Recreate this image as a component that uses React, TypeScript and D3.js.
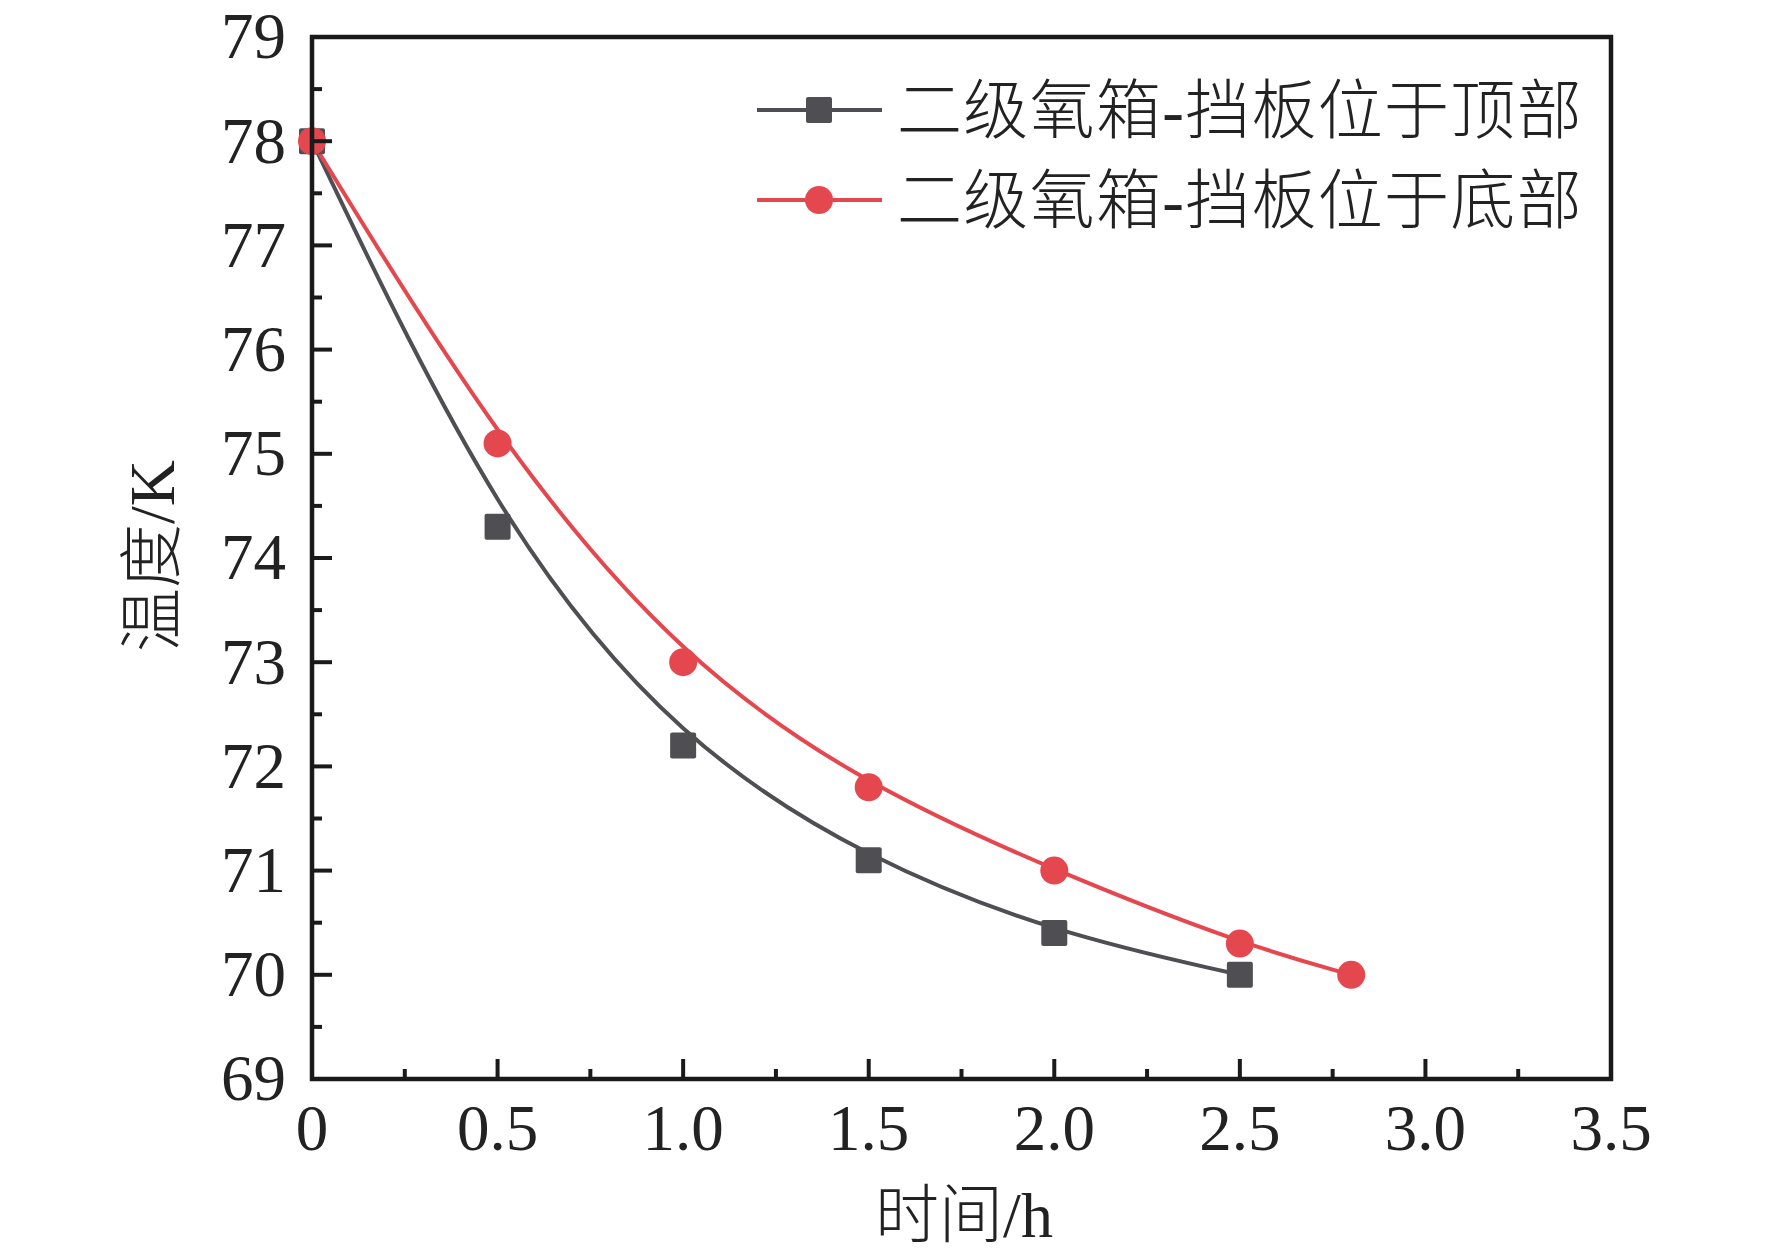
import * as d3 from 'd3';

// series
const timeTop = [0, 0.5, 1.0, 1.5, 2.0, 2.5];
const tempTop = [78, 74.3, 72.2, 71.1, 70.4, 70.0];
const timeBottom = [0, 0.5, 1.0, 1.5, 2.0, 2.5, 2.8];
const tempBottom = [78, 75.1, 73.0, 71.8, 71.0, 70.3, 70.0];

const seriesNames = ['二级氧箱-挡板位于顶部', '二级氧箱-挡板位于底部'];
const xTickLabels = ['0', '0.5', '1.0', '1.5', '2.0', '2.5', '3.0', '3.5'];
const yTickValues = [69, 70, 71, 72, 73, 74, 75, 76, 77, 78, 79];

const WIDTH = 1772;
const HEIGHT = 1257;
const MARGIN = { top: 37, right: 161, bottom: 178, left: 312 };

const GREY = '#4f4f53';
const RED = '#e5474f';
const FONT = "'Liberation Serif', 'Times New Roman', 'Noto Sans CJK SC', serif";

export default function App() {
  const boundsWidth = WIDTH - MARGIN.left - MARGIN.right;
  const boundsHeight = HEIGHT - MARGIN.top - MARGIN.bottom;

  const xScale = d3.scaleLinear().domain([0, 3.5]).range([0, boundsWidth]);
  const yScale = d3.scaleLinear().domain([69, 79]).range([boundsHeight, 0]);

  // Origin style B-spline connection
  const line = d3
    .line<[number, number]>()
    .x((d) => xScale(d[0]))
    .y((d) => yScale(d[1]))
    .curve(d3.curveBasis);

  const topPts = timeTop.map((t, i) => [t, tempTop[i]] as [number, number]);
  const bottomPts = timeBottom.map((t, i) => [t, tempBottom[i]] as [number, number]);

  const xMajor = xTickLabels.map((l) => +l);
  const xMinor = d3.range(0.25, 3.5, 0.5);
  const yMinor = d3.range(69.5, 79, 1);

  const SQ = 26;
  const R = 14;

  return (
    <svg
      width={WIDTH}
      height={HEIGHT}
      style={{ position: 'absolute', left: 0, top: 0, background: '#fff' }}
      fontFamily={FONT}
    >
      <g transform={`translate(${MARGIN.left},${MARGIN.top})`}>
        {/* curves */}
        <path d={line(topPts) ?? ''} fill="none" stroke={GREY} strokeWidth={4} />
        <path d={line(bottomPts) ?? ''} fill="none" stroke={RED} strokeWidth={4} />

        {/* markers */}
        {topPts.map((d, i) => (
          <rect
            key={`s${i}`}
            x={xScale(d[0]) - SQ / 2}
            y={yScale(d[1]) - SQ / 2}
            width={SQ}
            height={SQ}
            rx={2}
            fill={GREY}
          />
        ))}
        {bottomPts.map((d, i) => (
          <circle key={`c${i}`} cx={xScale(d[0])} cy={yScale(d[1])} r={R} fill={RED} />
        ))}

        {/* ticks, inward */}
        {xMajor.map((v) => (
          <line key={`xM${v}`} x1={xScale(v)} x2={xScale(v)} y1={boundsHeight} y2={boundsHeight - 20} stroke="#1a1a1a" strokeWidth={4} />
        ))}
        {xMinor.map((v) => (
          <line key={`xm${v}`} x1={xScale(v)} x2={xScale(v)} y1={boundsHeight} y2={boundsHeight - 10} stroke="#1a1a1a" strokeWidth={4} />
        ))}
        {yTickValues.map((v) => (
          <line key={`yM${v}`} x1={0} x2={20} y1={yScale(v)} y2={yScale(v)} stroke="#1a1a1a" strokeWidth={4} />
        ))}
        {yMinor.map((v) => (
          <line key={`ym${v}`} x1={0} x2={10} y1={yScale(v)} y2={yScale(v)} stroke="#1a1a1a" strokeWidth={4} />
        ))}

        {/* frame */}
        <rect x={0} y={0} width={boundsWidth} height={boundsHeight} fill="none" stroke="#1a1a1a" strokeWidth={4.5} />

        {/* tick labels */}
        {xTickLabels.map((l) => (
          <text key={`xl${l}`} x={xScale(+l)} y={boundsHeight + 71} textAnchor="middle" fontSize={65} fill="#222">
            {l}
          </text>
        ))}
        {yTickValues.map((v) => (
          <text key={`yl${v}`} x={-26} y={yScale(v)} dy="0.33em" textAnchor="end" fontSize={65} fill="#222">
            {v}
          </text>
        ))}

        {/* legend */}
        {seriesNames.map((name, i) => {
          const ly = 73 + i * 90;
          const lx = 445;
          return (
            <g key={name}>
              <line x1={lx} x2={lx + 125} y1={ly} y2={ly} stroke={i === 0 ? GREY : RED} strokeWidth={4} />
              {i === 0 ? (
                <rect x={lx + 62 - SQ / 2} y={ly - SQ / 2} width={SQ} height={SQ} rx={2} fill={GREY} />
              ) : (
                <circle cx={lx + 62} cy={ly} r={R} fill={RED} />
              )}
              <text x={lx + 140} y={ly} dy="0.36em" fontSize={65} fontWeight={300} letterSpacing={1.3} fill="#222">
                {name}
              </text>
            </g>
          );
        })}
      </g>

      {/* axis titles */}
      <text x={964} y={1237} textAnchor="middle" fontSize={64} fontWeight={300} fill="#222">
        时间/h
      </text>
      <text
        transform="translate(152,556) rotate(-90)"
        textAnchor="middle"
        dominantBaseline="central"
        fontSize={64}
        fontWeight={300}
        fill="#222"
      >
        温度/K
      </text>
    </svg>
  );
}
